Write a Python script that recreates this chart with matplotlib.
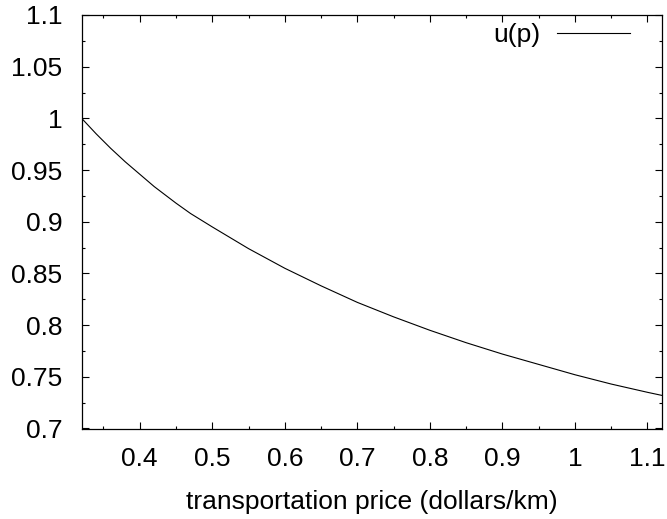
import numpy as np
import matplotlib
matplotlib.use("Agg")
import matplotlib.pyplot as plt
from matplotlib.ticker import MultipleLocator, FormatStrFormatter

# values
price = [0.32, 0.34, 0.36, 0.38, 0.40, 0.42, 0.45, 0.47, 0.50, 0.55,
         0.60, 0.65, 0.70, 0.75, 0.80, 0.85, 0.90, 0.95, 1.00, 1.05,
         1.10, 1.12]
u = [1.000, 0.985, 0.971, 0.958, 0.946, 0.934, 0.918, 0.908, 0.895, 0.874,
     0.855, 0.838, 0.822, 0.808, 0.795, 0.783, 0.772, 0.762, 0.752, 0.743,
     0.735, 0.732]

plt.rcParams['font.family'] = ['Liberation Sans', 'DejaVu Sans']
fs = 19

fig = plt.figure(figsize=(6.67, 5.19), dpi=100)
ax = fig.add_axes([81.7/667, 1 - 428.5/519, (662 - 81.7)/667, (428.5 - 15)/519])

ax.plot(price, u, color='black', lw=0.8, label='u(p)')

ax.set_xlim(0.32, 1.12)
ax.set_ylim(0.7, 1.1)
ax.xaxis.set_major_locator(MultipleLocator(0.1))
ax.xaxis.set_minor_locator(MultipleLocator(0.05))
ax.yaxis.set_major_locator(MultipleLocator(0.05))
ax.yaxis.set_minor_locator(MultipleLocator(0.025))
ax.xaxis.set_major_formatter(FormatStrFormatter('%g'))
ax.yaxis.set_major_formatter(FormatStrFormatter('%g'))

ax.tick_params(which='both', direction='in', top=True, right=True, width=0.8)
ax.tick_params(which='major', length=5)
ax.tick_params(which='minor', length=2.5)
ax.tick_params(axis='y', which='major', labelsize=fs, pad=14)
ax.tick_params(axis='x', which='major', labelsize=fs, pad=13)
for s in ax.spines.values():
    s.set_linewidth(0.9)

ax.set_xlabel('transportation price (dollars/km)', fontsize=fs, labelpad=14)

ax.legend(loc='center right', bbox_to_anchor=(0.945, 0.952), frameon=False,
          markerfirst=False, fontsize=fs, handlelength=2.77, handletextpad=0.64,
          borderpad=0, borderaxespad=0)

fig.savefig('out.png', dpi=100)
